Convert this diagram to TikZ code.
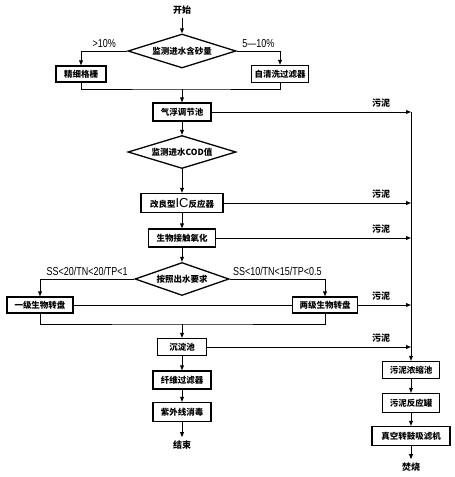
\documentclass[tikz,border=0pt]{standalone}
\usepackage{fontspec}
\setmainfont{Liberation Sans}
\newfontfamily\cjk{Noto Sans CJK SC}
\newfontfamily\narrowfont{Liberation Sans}[FakeStretch=0.78]
\usetikzlibrary{shapes.geometric, arrows.meta, positioning}

\begin{document}
\begin{tikzpicture}[x=1pt, y=-1pt, >={Triangle[length=5pt, width=3.8pt]},
    box/.style={draw, line width=1.3pt, minimum height=18pt, inner sep=0pt,
        font=\cjk\bfseries\fontsize{8.5}{8.5}\selectfont},
    decision/.style={draw, diamond, aspect=3.2, inner sep=0pt, line width=1.3pt,
        font=\cjk\bfseries\fontsize{8.5}{8.5}\selectfont},
    term/.style={font=\cjk\bfseries\fontsize{9}{9}\selectfont},
    cond/.style={font=\narrowfont\fontsize{11.5}{11.5}\selectfont},
    flow/.style={->, line width=0.9pt},
    link/.style={line width=0.9pt}]

    \useasboundingbox (0,0) rectangle (455,477);

    % --- MAIN LINE: INLET AND PRETREATMENT ---
    \node[term] (start) at (182,10) {开始};
    \node[decision, minimum width=108pt, minimum height=34pt] (sand) at (182,51) {监测进水含砂量};
    \node[box, minimum width=50pt, minimum height=16pt] (grid) at (81,74) {精细格栅};
    \node[box, minimum width=57pt, minimum height=17pt] (selfclean) at (280,74) {自清洗过滤器};
    \coordinate (join1) at (182,89);
    \node[box, minimum width=58pt] (float) at (182,112) {气浮调节池};

    % --- BIOLOGICAL TREATMENT ---
    \node[decision, minimum width=108pt, minimum height=33pt] (cod) at (182,152) {监测进水COD值};
    \node[box, minimum width=82pt, minimum height=19pt] (ic) at (182,203)
        {改良型{\normalfont\mdseries\fontsize{13}{13}\selectfont IC}反应器};
    \node[box, minimum width=67pt] (contact) at (182,238) {生物接触氧化};
    \node[decision, minimum width=94pt, minimum height=33pt] (req) at (182,279) {按照出水要求};
    \node[box, minimum width=66pt, minimum height=16pt] (disc1) at (40,305) {一级生物转盘};
    \node[box, minimum width=65pt, minimum height=16pt] (disc2) at (325,305) {两级生物转盘};
    \coordinate (join2) at (182,324);

    % --- POLISHING ---
    \node[box, minimum width=49pt, minimum height=17pt] (settle) at (182,347) {沉淀池};
    \node[box, minimum width=58pt] (fiber) at (182,380) {纤维过滤器};
    \node[box, minimum width=58pt, minimum height=19pt] (uv) at (182,412) {紫外线消毒};
    \node[term] (end) at (182,445) {结束};

    % --- SLUDGE LINE ---
    \coordinate (sludge) at (411,112);
    \node[box, minimum width=57pt, minimum height=17pt] (thicken) at (411,370) {污泥浓缩池};
    \node[box, minimum width=57pt, minimum height=19pt] (tank) at (411,403) {污泥反应罐};
    \node[box, minimum width=78pt, minimum height=19pt] (vacuum) at (411,436) {真空转鼓吸滤机};
    \node[term] (burn) at (411,467) {焚烧};

    % Connectors
    \draw[flow] (start) -- (sand);
    \draw[flow] (sand.west) -| (grid.north) node[cond, above, pos=0.25] {>10\%};
    \draw[flow] (sand.east) -| (selfclean.north) node[cond, above, pos=0.25] {5—10\%};
    \draw[link] (grid.south) |- (join1) -| (selfclean.south);
    \draw[flow] (join1) -- (float);
    \draw[flow] (float) -- (cod);
    \draw[flow] (cod) -- (ic);
    \draw[flow] (ic) -- (contact);
    \draw[flow] (contact) -- (req);
    \draw[flow] (req.west) -| (disc1.north) node[cond, above, pos=0.25] {SS<20/TN<20/TP<1};
    \draw[flow] (req.east) -| (disc2.north) node[cond, above, pos=0.25] {SS<10/TN<15/TP<0.5};
    \draw[link] (disc1.east) -- (disc2.west);
    \draw[link] (disc1.south) |- (join2) -| (disc2.south);
    \draw[flow] (join2) -- (settle);
    \draw[flow] (settle) -- (fiber);
    \draw[flow] (fiber) -- (uv);
    \draw[flow] (uv) -- (end);

    % Sludge
    \foreach \src in {float, ic, contact, disc2, settle}
        \draw[flow] (\src.east) -- (\src.east -| sludge)
            node[term, above, pos=1, xshift=-30pt, yshift=1pt] {污泥};
    \draw[flow] (sludge) -- (thicken);
    \draw[flow] (thicken) -- (tank);
    \draw[flow] (tank) -- (vacuum);
    \draw[flow] (vacuum) -- (burn);
\end{tikzpicture}
\end{document}
